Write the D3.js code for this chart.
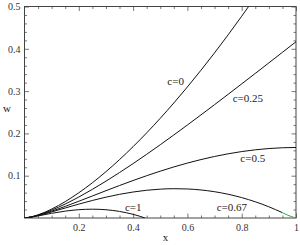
<!DOCTYPE html>
<html>
<head>
<meta charset="utf-8">
<script src="https://cdn.jsdelivr.net/npm/d3@7"></script>
<style>
  body { margin: 0; background: #fff; }
  text { font-family: "Liberation Serif", "DejaVu Serif", serif; }
</style>
</head>
<body>
<div id="chart"></div>
<script>
// x grid shared by the curves
var xs = [0, 0.025, 0.05, 0.1, 0.15, 0.2, 0.25, 0.3, 0.35, 0.4, 0.45, 0.5,
  0.55, 0.6, 0.65, 0.7, 0.75, 0.8, 0.85, 0.9, 0.95, 1];

var wC0 = [0, 0.00264, 0.00745, 0.02108, 0.03873, 0.05963, 0.08333, 0.10954, 0.13804, 0.16865, 0.20125, 0.23570,
  0.27193, 0.30984, 0.34937, 0.39044, 0.43301, 0.47703, 0.52244, 0.56921, 0.61730, 0.66667];
var wC025 = [0, 0.00248, 0.00683, 0.01858, 0.03311, 0.04963, 0.06771, 0.08704, 0.10742, 0.12865, 0.15063, 0.17320,
  0.19631, 0.21984, 0.24375, 0.26794, 0.29239, 0.31703, 0.34182, 0.36671, 0.39168, 0.41667];
var wC05 = [0, 0.00232, 0.00620, 0.01608, 0.02748, 0.03963, 0.05208, 0.06454, 0.07679, 0.08865, 0.10000, 0.11070,
  0.12068, 0.12984, 0.13812, 0.14544, 0.15176, 0.15703, 0.16119, 0.16421, 0.16605, 0.16667];
var wC067 = [0, 0.00222, 0.00578, 0.01438, 0.02366, 0.03283, 0.04146, 0.04924, 0.05597, 0.06145, 0.06558, 0.06820,
  0.06926, 0.06864, 0.06630, 0.06214, 0.05614, 0.04823, 0.03837, 0.02651, 0.01263];
// c=0.67 tail, drawn in green
var xTail = [0.95, 0.97, 1];
var wTail = [0.01263, 0.0065, 0];
// c=1 stops where it returns to zero
var xC1 = [0, 0.025, 0.05, 0.1, 0.15, 0.2, 0.25, 0.3, 0.35, 0.4, 0.425, 0.444];
var wC1 = [0, 0.00201, 0.00495, 0.01108, 0.01623, 0.01963, 0.02083, 0.01954, 0.01554, 0.00865, 0.00409, 0];

var xMajor = [0.2, 0.4, 0.6, 0.8, 1];
var yMajor = [0.1, 0.2, 0.3, 0.4, 0.5];

var labels = [
  { text: "c=0", x: 0.526, w: 0.315 },
  { text: "c=0.25", x: 0.767, w: 0.275 },
  { text: "c=0.5", x: 0.795, w: 0.133 },
  { text: "c=0.67", x: 0.708, w: 0.0155 },
  { text: "c=1", x: 0.37, w: 0.0155 }
];

var width = 300,
  height = 245;
var margin = { top: 6.5, right: 4, bottom: 27, left: 24.5 };
var innerW = width - margin.left - margin.right,
  innerH = height - margin.top - margin.bottom;

var svg = d3.select("#chart")
  .append("svg")
  .attr("width", width)
  .attr("height", height);

var g = svg.append("g")
  .attr("transform", "translate(" + margin.left + "," + margin.top + ")");

var x = d3.scaleLinear().domain([0, 1]).range([0, innerW]);
var y = d3.scaleLinear().domain([0, 0.5]).range([innerH, 0]);

var xMinor = d3.range(0.05, 1, 0.05).filter(function (v) { return Math.abs(v * 5 - Math.round(v * 5)) > 1e-6; });
var yMinor = d3.range(0.02, 0.5, 0.02).filter(function (v) { return Math.abs(v * 10 - Math.round(v * 10)) > 1e-6; });

function styleAxis(sel) {
  sel.select(".domain").remove();
  sel.selectAll("line").attr("stroke", "#555").attr("stroke-width", 0.8);
  sel.selectAll("text").attr("fill", "#333").attr("font-size", "10px")
    .style("font-family", "Liberation Serif, serif");
}

// bottom
g.append("g").attr("transform", "translate(0," + innerH + ")")
  .call(d3.axisBottom(x).tickValues(xMajor).tickSizeInner(-4.5).tickSizeOuter(0).tickPadding(6).tickFormat(d3.format("~g")))
  .call(styleAxis);
g.append("g").attr("transform", "translate(0," + innerH + ")")
  .call(d3.axisBottom(x).tickValues(xMinor).tickSizeInner(-2.5).tickSizeOuter(0).tickFormat(""))
  .call(styleAxis);
// top
g.append("g")
  .call(d3.axisTop(x).tickValues(xMajor).tickSizeInner(-4.5).tickSizeOuter(0).tickFormat(""))
  .call(styleAxis);
g.append("g")
  .call(d3.axisTop(x).tickValues(xMinor).tickSizeInner(-2.5).tickSizeOuter(0).tickFormat(""))
  .call(styleAxis);
// left
g.append("g")
  .call(d3.axisLeft(y).tickValues(yMajor).tickSizeInner(-4.5).tickSizeOuter(0).tickPadding(4).tickFormat(d3.format("~g")))
  .call(styleAxis);
g.append("g")
  .call(d3.axisLeft(y).tickValues(yMinor).tickSizeInner(-2.5).tickSizeOuter(0).tickFormat(""))
  .call(styleAxis);
// right
g.append("g").attr("transform", "translate(" + innerW + ",0)")
  .call(d3.axisRight(y).tickValues(yMajor).tickSizeInner(-4.5).tickSizeOuter(0).tickFormat(""))
  .call(styleAxis);
g.append("g").attr("transform", "translate(" + innerW + ",0)")
  .call(d3.axisRight(y).tickValues(yMinor).tickSizeInner(-2.5).tickSizeOuter(0).tickFormat(""))
  .call(styleAxis);

g.append("rect")
  .attr("width", innerW)
  .attr("height", innerH)
  .attr("fill", "none")
  .attr("stroke", "#444")
  .attr("stroke-width", 1);

g.append("clipPath").attr("id", "clip")
  .append("rect").attr("width", innerW).attr("height", innerH);

var line = d3.line()
  .x(function (d) { return x(d[0]); })
  .y(function (d) { return y(d[1]); })
  .curve(d3.curveMonotoneX);

var series = [
  [xs, wC0],
  [xs, wC025],
  [xs, wC05],
  [xs.slice(0, wC067.length), wC067],
  [xC1, wC1]
];

var curves = g.append("g").attr("clip-path", "url(#clip)");

curves.selectAll(".curve")
  .data(series)
  .enter().append("path")
  .attr("class", "curve")
  .attr("fill", "none")
  .attr("stroke", "#111")
  .attr("stroke-width", 1)
  .attr("d", function (s) {
    return line(s[0].map(function (v, i) { return [v, s[1][i]]; }));
  });

curves.append("path")
  .attr("fill", "none")
  .attr("stroke", "#22b050")
  .attr("stroke-width", 1)
  .attr("d", line(xTail.map(function (v, i) { return [v, wTail[i]]; })));

g.selectAll(".clabel")
  .data(labels)
  .enter().append("text")
  .attr("class", "clabel")
  .attr("x", function (d) { return x(d.x); })
  .attr("y", function (d) { return y(d.w); })
  .attr("font-size", "11px")
  .attr("fill", "#222")
  .text(function (d) { return d.text; });

svg.append("text")
  .attr("x", 7)
  .attr("y", 112)
  .attr("text-anchor", "middle")
  .attr("font-size", "11px")
  .attr("fill", "#222")
  .text("w");

svg.append("text")
  .attr("x", 165.5)
  .attr("y", 241)
  .attr("text-anchor", "middle")
  .attr("font-size", "11px")
  .attr("fill", "#222")
  .text("x");
</script>
</body>
</html>
